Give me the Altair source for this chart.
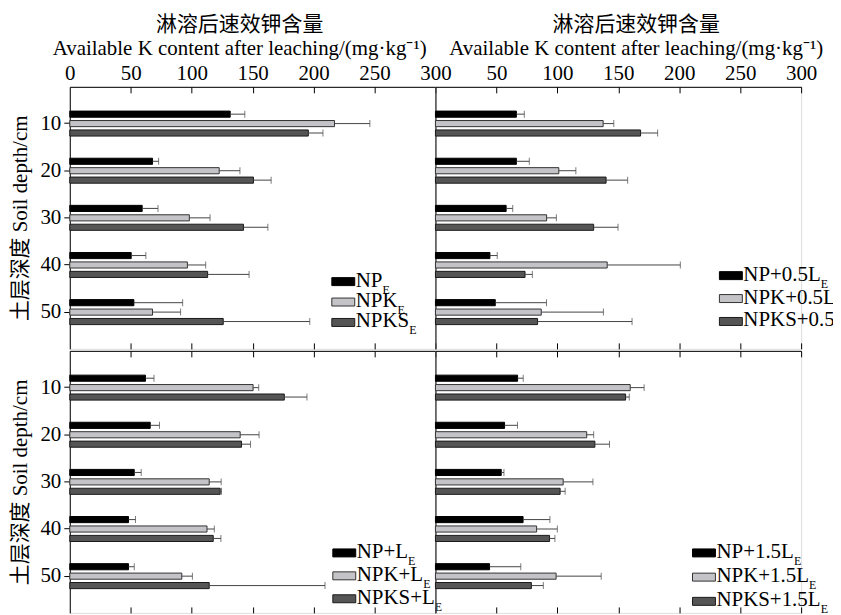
import altair as alt
import pandas as pd

DEPTHS = ["10", "20", "30", "40", "50"]
SERIES = ["NP", "NPK", "NPKS"]
TICK_LABELS_LEFT = [0, 50, 100, 150, 200, 250, 300]
TICK_LABELS_RIGHT = [50, 100, 150, 200, 250, 300]
TICK_MARKS = [50, 100, 150, 200, 250, 300]

X_TITLE = ["淋溶后速效钾含量", "Available K content after leaching/(mg·kg⁻¹)"]
Y_TITLE = "土层深度 Soil depth/cm"

# Panel 1: NP_E, NPK_E, NPKS_E
E_NP = [131.6, 67.9, 59.4, 50.4, 52.6]
E_NP_ERR = [12, 5, 13, 12, 40]
E_NPK = [217.2, 122.6, 98.1, 96.5, 67.9]
E_NPK_ERR = [29, 17, 17, 15, 23]
E_NPKS = [195.7, 150.7, 142.5, 113.1, 125.9]
E_NPKS_ERR = [12, 14.5, 20, 34, 71]

# Panel 2: +0.5L_E
L05_NP = [66.4, 66.4, 58.0, 44.7, 49.1]
L05_NP_ERR = [6.5, 10.6, 5.4, 6, 42]
L05_NPK = [137.6, 101.2, 91.2, 140.9, 86.8]
L05_NPK_ERR = [8.7, 14, 8, 60, 51]
L05_NPKS = [168.3, 140.0, 129.8, 73.5, 83.8]
L05_NPKS_ERR = [14, 17.7, 20, 6, 77.5]

# Panel 3: +L_E
L10_NP = [62.1, 66.0, 52.9, 48.2, 48.2]
L10_NP_ERR = [7, 7.6, 5.7, 5.7, 4.7]
L10_NPK = [150.4, 139.8, 114.4, 112.6, 91.9]
L10_NPK_ERR = [4.6, 15.5, 9.8, 6, 8.7]
L10_NPKS = [176.0, 140.9, 123.4, 117.7, 114.4]
L10_NPKS_ERR = [18.6, 7.4, 1.1, 6.3, 95]

# Panel 4: +1.5L_E
L15_NP = [67.4, 56.7, 54.0, 71.9, 44.4]
L15_NP_ERR = [4.6, 10.6, 2.2, 22, 25.6]
L15_NPK = [159.8, 124.1, 104.8, 83.0, 99.0]
L15_NPK_ERR = [11.4, 5.7, 24.4, 17, 37]
L15_NPKS = [156.0, 130.8, 102.3, 93.6, 78.7]
L15_NPKS_ERR = [3, 12, 4.1, 4.4, 9.8]

LEGEND_E = ["NP", "NPK", "NPKS"]
LEGEND_L05 = ["NP+0.5L", "NPK+0.5L", "NPKS+0.5L"]
LEGEND_L10 = ["NP+L", "NPK+L", "NPKS+L"]
LEGEND_L15 = ["NP+1.5L", "NPK+1.5L", "NPKS+1.5L"]
SUBSCRIPT = "E"

FONT = "Liberation Serif, Noto Sans CJK SC"
FS = 21
LFS = 21
FILLS = ["#000000", "#c4c4c8", "#555555"]
STROKES = ["#000000", "#333333", "#1a1a1a"]
ERR_COLOR = "#444444"
W, H = 367, 263

# Times widths (em) for legend subscript placement
TW = {"N": 0.722, "P": 0.556, "K": 0.722, "S": 0.556, "+": 0.564, "0": 0.5,
      "1": 0.5, ".": 0.25, "5": 0.5, "L": 0.611}


def make_df(means, errs):
    rows = []
    for s, m, e in zip(SERIES, means, errs):
        for d, mv, ev in zip(DEPTHS, m, e):
            rows.append({"depth": d, "series": s, "mean": mv, "upper": mv + ev})
    return pd.DataFrame(rows)


def panel(means, errs, legend_labels, top_row, left_col, leg):
    df = make_df(means, errs)
    base = alt.Chart(df)
    xscale = alt.Scale(domain=[0, 300], nice=False, zero=True)
    yscale = alt.Scale(domain=DEPTHS, paddingInner=0.4, paddingOuter=0.48)
    yoff = alt.YOffset("series:N", sort=SERIES,
                       scale=alt.Scale(domain=SERIES, paddingInner=0.35, paddingOuter=0.175))
    color = alt.Color("series:N", scale=alt.Scale(domain=SERIES, range=FILLS), legend=None)
    stroke = alt.Stroke("series:N", scale=alt.Scale(domain=SERIES, range=STROKES), legend=None)

    if top_row:
        main_x_axis = alt.Axis(orient="top", values=TICK_LABELS_LEFT if left_col else TICK_LABELS_RIGHT,
                               labelFlush=False, labelOverlap=False, ticks=False, domain=True,
                               domainColor="#000000", labelFont=FONT, labelFontSize=FS,
                               labelColor="#000000", labelPadding=3, title=X_TITLE,
                               titleFont=FONT, titleFontSize=FS, titleFontWeight="normal",
                               titleColor="#000000", titlePadding=4, titleLineHeight=25,
                               titleX=170 if left_col else 201, grid=False)
    else:
        main_x_axis = alt.Axis(orient="top", labels=False, ticks=False, domain=True,
                               domainColor="#000000", title=None, grid=False)
    top_ticks = alt.Axis(orient="top", offset=-6, values=TICK_MARKS, ticks=True, tickSize=6,
                         tickColor="#000000", labels=False, domain=False, title=None, grid=False)
    bottom_ticks = alt.Axis(orient="bottom", offset=-6, values=TICK_MARKS, ticks=True, tickSize=6,
                            tickColor="#000000", labels=False, domain=False, title=None, grid=False)

    if left_col:
        y_axis = alt.Axis(labelFont=FONT, labelFontSize=FS, labelColor="#000000",
                          labelPadding=3, tickSize=6, tickColor="#000000", domain=True,
                          domainColor="#000000", title=Y_TITLE, titleFont=FONT, titleFontSize=FS,
                          titleFontWeight="normal", titleColor="#000000", titlePadding=9,
                          grid=False)
    else:
        y_axis = alt.Axis(labels=False, ticks=False, domain=True,
                          domainColor="#000000", title=None, grid=False)

    y_enc = alt.Y("depth:N", scale=yscale, axis=y_axis, sort=DEPTHS)
    bars = base.mark_bar(strokeWidth=1).encode(
        x=alt.X("mean:Q", scale=xscale, axis=main_x_axis),
        y=y_enc, yOffset=yoff, color=color, stroke=stroke)
    rules = base.mark_rule(color=ERR_COLOR, strokeWidth=1).encode(
        x=alt.X("mean:Q", scale=xscale, axis=top_ticks), x2="upper:Q",
        y=y_enc, yOffset=yoff)
    caps = base.mark_tick(color=ERR_COLOR, thickness=1, size=7, orient="vertical").encode(
        x=alt.X("upper:Q", scale=xscale, axis=bottom_ticks),
        y=y_enc, yOffset=yoff)

    layers = [bars, rules, caps]
    sx, y0, dy = leg
    one = pd.DataFrame({"k": [0]})
    for i, lab in enumerate(legend_labels):
        yc = y0 + i * dy
        sw = alt.Chart(one).mark_rect(fill=FILLS[i], stroke=STROKES[i], strokeWidth=1).encode(
            x=alt.value(sx), x2=alt.value(sx + 23), y=alt.value(yc - 4), y2=alt.value(yc + 4))
        tx = sx + 24
        ty = yc + 5
        txt = alt.Chart(one).mark_text(font=FONT, fontSize=LFS, align="left", baseline="alphabetic",
                                       color="#000000").encode(
            x=alt.value(tx), y=alt.value(ty), text=alt.value(lab))
        wid = sum(TW.get(c, 0.5) for c in lab) * LFS
        sub = alt.Chart(one).mark_text(font=FONT, fontSize=12, align="left", baseline="alphabetic",
                                       color="#000000").encode(
            x=alt.value(tx + wid), y=alt.value(ty + 7), text=alt.value(SUBSCRIPT))
        layers += [sw, txt, sub]

    return alt.layer(*layers).resolve_axis(x="independent").properties(width=W, height=H)


tl = panel([E_NP, E_NPK, E_NPKS], [E_NP_ERR, E_NPK_ERR, E_NPKS_ERR], LEGEND_E, True, True,
           (263, 195.5, 20.5))
tr = panel([L05_NP, L05_NPK, L05_NPKS], [L05_NP_ERR, L05_NPK_ERR, L05_NPKS_ERR], LEGEND_L05,
           True, False, (285, 189.5, 23))
bl = panel([L10_NP, L10_NPK, L10_NPKS], [L10_NP_ERR, L10_NPK_ERR, L10_NPKS_ERR], LEGEND_L10,
           False, True, (264, 202.8, 23))
br = panel([L15_NP, L15_NPK, L15_NPKS], [L15_NP_ERR, L15_NPK_ERR, L15_NPKS_ERR], LEGEND_L15,
           False, False, (258, 202.8, 24.3))

top = alt.hconcat(tl, tr, spacing=0, bounds="flush")
bottom = alt.hconcat(bl, br, spacing=0, bounds="flush")
chart = alt.vconcat(top, bottom, spacing=0).properties(
    padding={"left": 1, "top": 3, "right": -23, "bottom": 0}
).configure_view(stroke=None).configure(background="white")

chart.save("out.html", embed_options={"renderer": "svg", "actions": False})
